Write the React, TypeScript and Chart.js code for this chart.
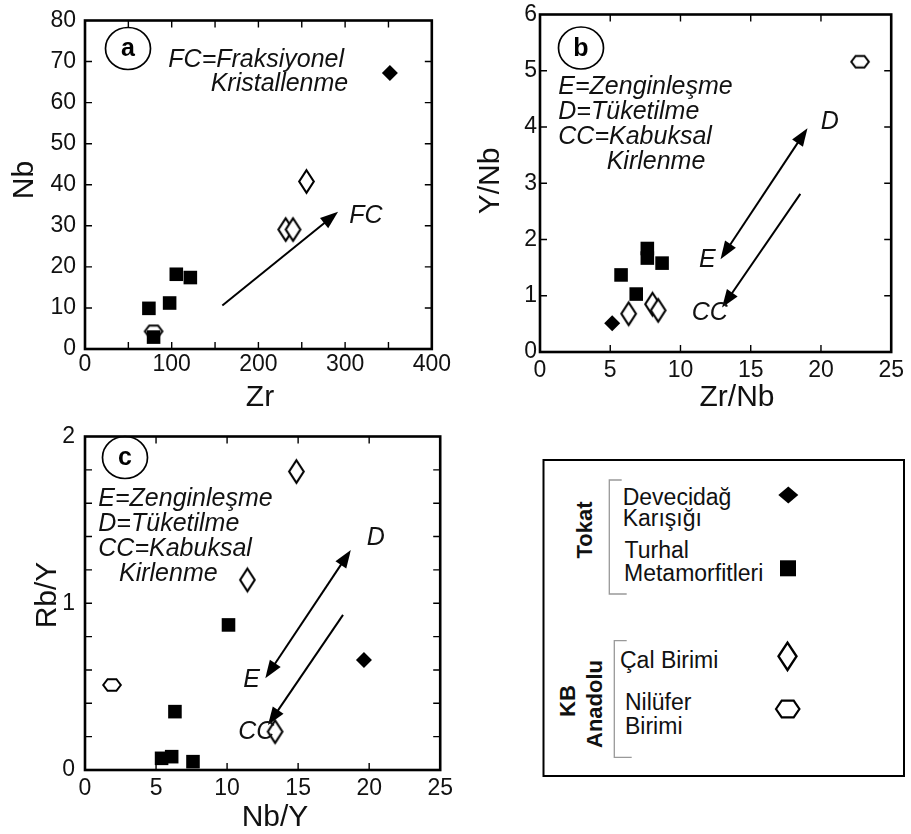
import React, { useEffect, useRef } from 'react';
import { Chart, registerables } from 'chart.js';

Chart.register(...registerables);

const FONT = "'Liberation Sans', Arial, Helvetica, sans-serif";

// ---------- Panel (a): Zr vs Nb ----------
const zrDevecidag = [351.6];
const nbDevecidag = [67.2];
const zrTurhal = [73.7, 97.6, 105.3, 121.5, 79.1];
const nbTurhal = [9.9, 11.2, 18.2, 17.4, 2.9];
const zrCal = [255.4, 231.5, 239.9];
const nbCal = [40.8, 29.1, 29.1];
const zrNilufer = [79.1];
const nbNilufer = [4.3];
const fcArrowA = [[158.4, 10.6], [291.9, 33.4]];
const zrTickLabels = ['0', '100', '200', '300', '400'];
const nbTickLabels = ['0', '10', '20', '30', '40', '50', '60', '70', '80'];

// ---------- Panel (b): Zr/Nb vs Y/Nb ----------
const zrNbDevecidag = [5.14];
const yNbDevecidag = [0.51];
const zrNbTurhal = [5.77, 6.85, 7.64, 7.64, 8.69];
const yNbTurhal = [1.37, 1.03, 1.84, 1.67, 1.58];
const zrNbCal = [6.31, 8.01, 8.41];
const yNbCal = [0.68, 0.85, 0.74];
const zrNbNilufer = [22.78];
const yNbNilufer = [5.16];
const edArrowB = [[12.85, 1.65], [19.04, 3.98]];
const ccArrowB = [[18.53, 2.81], [12.96, 0.79]];
const zrNbTickLabels = ['0', '5', '10', '15', '20', '25'];
const yNbTickLabels = ['0', '1', '2', '3', '4', '5', '6'];

// ---------- Panel (c): Nb/Y vs Rb/Y ----------
const nbYDevecidag = [19.63];
const rbYDevecidag = [0.66];
const nbYTurhal = [10.1, 6.33, 5.39, 6.1, 7.6];
const rbYTurhal = [0.87, 0.35, 0.07, 0.08, 0.05];
const nbYCal = [14.88, 11.43, 13.38];
const rbYCal = [1.79, 1.14, 0.23];
const nbYNilufer = [1.9];
const rbYNilufer = [0.51];
const edArrowC = [[12.69, 0.55], [18.71, 1.32]];
const ccArrowC = [[18.16, 0.93], [12.88, 0.27]];
const nbYTickLabels = ['0', '5', '10', '15', '20', '25'];
const rbYTickLabels = ['0', '1', '2'];

type Arrow = { from: number[]; to: number[]; both: boolean };
type TextItem = { t: string; x: number; y: number };
type Spec = {
  letter: string;
  left: number; top: number; width: number; height: number;
  padTop: number; padRight: number; yWidth: number; xHeight: number;
  xMin: number; xMax: number; xStep: number; xLabels: string[]; xPad: number;
  yMin: number; yMax: number; yStep: number; yLabels: string[]; yPad: number;
  turhal: number[][]; devecidag: number[][]; cal: number[][]; nilufer: number[][];
  arrows: Arrow[];
  texts: TextItem[];
  circle: { x: number; y: number };
  xTitle: TextItem; yTitle: TextItem;
};

const specs: Spec[] = [
  {
    letter: 'a', left: 0, top: 0, width: 455, height: 415,
    padTop: 11, padRight: 23, yWidth: 85, xHeight: 66,
    xMin: 0, xMax: 400, xStep: 50, xLabels: zrTickLabels, xPad: 4,
    yMin: 0, yMax: 80, yStep: 10, yLabels: nbTickLabels, yPad: 9,
    turhal: [zrTurhal, nbTurhal], devecidag: [zrDevecidag, nbDevecidag],
    cal: [zrCal, nbCal], nilufer: [zrNilufer, nbNilufer],
    arrows: [{ from: fcArrowA[0], to: fcArrowA[1], both: false }],
    texts: [
      { t: 'FC=Fraksiyonel', x: 168.3, y: 60 },
      { t: 'Kristallenme', x: 210.7, y: 84 },
      { t: 'FC', x: 349.3, y: 216 },
    ],
    circle: { x: 128, y: 48.5 },
    xTitle: { t: 'Zr', x: 260, y: 398 },
    yTitle: { t: 'Nb', x: 25, y: 180 },
  },
  {
    letter: 'b', left: 455, top: 0, width: 456, height: 415,
    padTop: 12, padRight: 14, yWidth: 85, xHeight: 63,
    xMin: 0, xMax: 25, xStep: 5, xLabels: zrNbTickLabels, xPad: 7,
    yMin: 0, yMax: 6, yStep: 1, yLabels: yNbTickLabels, yPad: 3,
    turhal: [zrNbTurhal, yNbTurhal], devecidag: [zrNbDevecidag, yNbDevecidag],
    cal: [zrNbCal, yNbCal], nilufer: [zrNbNilufer, yNbNilufer],
    arrows: [
      { from: edArrowB[0], to: edArrowB[1], both: true },
      { from: ccArrowB[0], to: ccArrowB[1], both: false },
    ],
    texts: [
      { t: 'E=Zenginleşme', x: 103.3, y: 86.7 },
      { t: 'D=Tüketilme', x: 103.3, y: 111.7 },
      { t: 'CC=Kabuksal', x: 103.3, y: 136.7 },
      { t: 'Kirlenme', x: 151.7, y: 161.7 },
      { t: 'D', x: 365.7, y: 121.7 },
      { t: 'E', x: 244, y: 260 },
      { t: 'CC', x: 236.7, y: 313.3 },
    ],
    circle: { x: 126, y: 48 },
    xTitle: { t: 'Zr/Nb', x: 282, y: 398 },
    yTitle: { t: 'Y/Nb', x: 36, y: 181 },
  },
  {
    letter: 'c', left: 0, top: 415, width: 460, height: 419,
    padTop: 14, padRight: 17, yWidth: 85, xHeight: 64,
    xMin: 0, xMax: 25, xStep: 5, xLabels: nbYTickLabels, xPad: 7,
    yMin: 0, yMax: 2, yStep: 0.2, yLabels: rbYTickLabels, yPad: 10,
    turhal: [nbYTurhal, rbYTurhal], devecidag: [nbYDevecidag, rbYDevecidag],
    cal: [nbYCal, rbYCal], nilufer: [nbYNilufer, rbYNilufer],
    arrows: [
      { from: edArrowC[0], to: edArrowC[1], both: true },
      { from: ccArrowC[0], to: ccArrowC[1], both: false },
    ],
    texts: [
      { t: 'E=Zenginleşme', x: 98.3, y: 84 },
      { t: 'D=Tüketilme', x: 98.3, y: 109.3 },
      { t: 'CC=Kabuksal', x: 98.3, y: 134.3 },
      { t: 'Kirlenme', x: 119, y: 159 },
      { t: 'D', x: 366.7, y: 123.3 },
      { t: 'E', x: 243.3, y: 265 },
      { t: 'CC', x: 238.3, y: 317.3 },
    ],
    circle: { x: 125, y: 42.5 },
    xTitle: { t: 'Nb/Y', x: 275, y: 403 },
    yTitle: { t: 'Rb/Y', x: 48, y: 180 },
  },
];

function pts(xs: number[], ys: number[]) {
  return xs.map((x, i) => ({ x, y: ys[i] }));
}

function tickCb(labels: string[]) {
  return (v: number | string) => {
    const s = String(Math.round(Number(v) * 1000) / 1000);
    return labels.includes(s) ? s : '';
  };
}

function makeDiamond(hw: number, hh: number, lw: number) {
  const c = document.createElement('canvas');
  c.width = Math.ceil(2 * hw + 2 * lw + 2);
  c.height = Math.ceil(2 * hh + 2 * lw + 2);
  const g = c.getContext('2d')!;
  const cx = c.width / 2, cy = c.height / 2;
  g.beginPath();
  g.moveTo(cx, cy - hh);
  g.lineTo(cx + hw, cy);
  g.lineTo(cx, cy + hh);
  g.lineTo(cx - hw, cy);
  g.closePath();
  g.fillStyle = '#fff';
  g.fill();
  g.lineWidth = lw;
  g.strokeStyle = '#000';
  g.stroke();
  return c;
}

function makeHexagon(hw: number, hh: number, lw: number) {
  const c = document.createElement('canvas');
  c.width = Math.ceil(2 * hw + 2 * lw + 2);
  c.height = Math.ceil(2 * hh + 2 * lw + 2);
  const g = c.getContext('2d')!;
  const cx = c.width / 2, cy = c.height / 2;
  const k = hw * 0.5;
  g.beginPath();
  g.moveTo(cx - hw, cy);
  g.lineTo(cx - k, cy - hh);
  g.lineTo(cx + k, cy - hh);
  g.lineTo(cx + hw, cy);
  g.lineTo(cx + k, cy + hh);
  g.lineTo(cx - k, cy + hh);
  g.closePath();
  g.fillStyle = '#fff';
  g.fill();
  g.lineWidth = lw;
  g.strokeStyle = '#000';
  g.stroke();
  return c;
}

const TICK = 7;

function panelPlugin(spec: Spec) {
  return {
    id: 'panel_' + spec.letter,
    afterDraw(chart: any) {
      const ctx: CanvasRenderingContext2D = chart.ctx;
      const { left, right, top, bottom } = chart.chartArea;
      const xs = chart.scales.x;
      const ys = chart.scales.y;
      ctx.save();
      ctx.strokeStyle = '#000';
      ctx.fillStyle = '#000';
      // inward ticks on all four sides
      ctx.lineWidth = 1.4;
      ctx.beginPath();
      for (const t of xs.ticks) {
        const px = xs.getPixelForValue(t.value);
        if (px - left < 2 || right - px < 2) continue;
        ctx.moveTo(px, bottom);
        ctx.lineTo(px, bottom - TICK);
        ctx.moveTo(px, top);
        ctx.lineTo(px, top + TICK);
      }
      for (const t of ys.ticks) {
        const py = ys.getPixelForValue(t.value);
        if (py - top < 2 || bottom - py < 2) continue;
        ctx.moveTo(left, py);
        ctx.lineTo(left + TICK, py);
        ctx.moveTo(right, py);
        ctx.lineTo(right - TICK, py);
      }
      ctx.stroke();
      // frame
      ctx.lineWidth = 2.6;
      ctx.strokeRect(left, top, right - left, bottom - top);

      // arrows
      const HL = 18, HW = 6.5;
      const head = (tx: number, ty: number, ux: number, uy: number) => {
        const bx = tx - ux * HL, by = ty - uy * HL;
        ctx.beginPath();
        ctx.moveTo(tx, ty);
        ctx.lineTo(bx - uy * HW, by + ux * HW);
        ctx.lineTo(bx + uy * HW, by - ux * HW);
        ctx.closePath();
        ctx.fill();
      };
      ctx.lineWidth = 2;
      for (const a of spec.arrows) {
        const x1 = xs.getPixelForValue(a.from[0]);
        const y1 = ys.getPixelForValue(a.from[1]);
        const x2 = xs.getPixelForValue(a.to[0]);
        const y2 = ys.getPixelForValue(a.to[1]);
        const len = Math.hypot(x2 - x1, y2 - y1);
        const ux = (x2 - x1) / len, uy = (y2 - y1) / len;
        const sx = a.both ? x1 + ux * HL * 0.8 : x1;
        const sy = a.both ? y1 + uy * HL * 0.8 : y1;
        ctx.beginPath();
        ctx.moveTo(sx, sy);
        ctx.lineTo(x2 - ux * HL * 0.8, y2 - uy * HL * 0.8);
        ctx.stroke();
        head(x2, y2, ux, uy);
        if (a.both) head(x1, y1, -ux, -uy);
      }

      // italic annotation texts
      ctx.font = `italic 25px ${FONT}`;
      ctx.textAlign = 'left';
      ctx.textBaseline = 'middle';
      ctx.fillStyle = '#111';
      for (const t of spec.texts) ctx.fillText(t.t, t.x, t.y);

      // circled panel letter
      ctx.lineWidth = 1.7;
      ctx.beginPath();
      ctx.ellipse(spec.circle.x, spec.circle.y, 22.5, 21, 0, 0, Math.PI * 2);
      ctx.stroke();
      ctx.font = `bold 25px ${FONT}`;
      ctx.textAlign = 'center';
      ctx.fillStyle = '#000';
      ctx.fillText(spec.letter, spec.circle.x, spec.circle.y + 1);

      // axis titles
      ctx.font = `30px ${FONT}`;
      ctx.fillStyle = '#111';
      ctx.fillText(spec.xTitle.t, spec.xTitle.x, spec.xTitle.y);
      ctx.translate(spec.yTitle.x, spec.yTitle.y);
      ctx.rotate(-Math.PI / 2);
      ctx.fillText(spec.yTitle.t, 0, 0);
      ctx.restore();
    },
  };
}

function Panel({ spec }: { spec: Spec }) {
  const ref = useRef<HTMLCanvasElement | null>(null);
  useEffect(() => {
    if (!ref.current) return;
    const openDiamond = makeDiamond(7.3, 11.3, 2.1);
    const hexagon = makeHexagon(8.8, 5.8, 2);
    const tickFont = { family: FONT, size: 23, lineHeight: 1 };
    const chart = new Chart(ref.current, {
      type: 'scatter',
      data: {
        datasets: [
          {
            label: 'Turhal Metamorfitleri',
            data: pts(spec.turhal[0], spec.turhal[1]),
            pointStyle: 'rect',
            pointRadius: 9.6,
            backgroundColor: '#000',
            borderColor: '#000',
            borderWidth: 0,
            clip: false,
          },
          {
            label: 'Devecidağ Karışığı',
            data: pts(spec.devecidag[0], spec.devecidag[1]),
            pointStyle: 'rectRot',
            pointRadius: 8,
            backgroundColor: '#000',
            borderColor: '#000',
            borderWidth: 0,
            clip: false,
          },
          {
            label: 'Çal Birimi',
            data: pts(spec.cal[0], spec.cal[1]),
            pointStyle: openDiamond as any,
            pointRadius: 8,
            clip: false,
          },
          {
            label: 'Nilüfer Birimi',
            data: pts(spec.nilufer[0], spec.nilufer[1]),
            pointStyle: hexagon as any,
            pointRadius: 8,
            clip: false,
          },
        ] as any,
      },
      options: {
        animation: false,
        responsive: false,
        maintainAspectRatio: false,
        devicePixelRatio: 1,
        events: [],
        layout: { padding: { top: spec.padTop, right: spec.padRight, left: 0, bottom: 0 } },
        plugins: {
          legend: { display: false },
          tooltip: { enabled: false },
          title: { display: false },
        },
        scales: {
          x: {
            type: 'linear',
            position: 'bottom',
            min: spec.xMin,
            max: spec.xMax,
            afterFit: (s: any) => { s.height = spec.xHeight; },
            ticks: {
              stepSize: spec.xStep,
              autoSkip: false,
              maxRotation: 0,
              minRotation: 0,
              padding: spec.xPad,
              color: '#111',
              font: tickFont,
              callback: tickCb(spec.xLabels),
            },
            grid: { display: false, drawTicks: false, tickLength: 0 },
            border: { display: false },
          },
          y: {
            type: 'linear',
            position: 'left',
            min: spec.yMin,
            max: spec.yMax,
            afterFit: (s: any) => { s.width = spec.yWidth; },
            ticks: {
              stepSize: spec.yStep,
              autoSkip: false,
              padding: spec.yPad,
              color: '#111',
              font: tickFont,
              callback: tickCb(spec.yLabels),
            },
            grid: { display: false, drawTicks: false, tickLength: 0 },
            border: { display: false },
          },
        },
      } as any,
      plugins: [panelPlugin(spec)],
    });
    return () => chart.destroy();
  }, [spec]);
  return (
    <canvas
      ref={ref}
      width={spec.width}
      height={spec.height}
      style={{ position: 'absolute', left: spec.left, top: spec.top, width: spec.width, height: spec.height }}
    />
  );
}

function Legend() {
  const txt = { fontFamily: FONT, fontSize: 23, fill: '#111' } as const;
  const bold = { fontFamily: FONT, fontSize: 22, fontWeight: 700, fill: '#111' } as const;
  const hx = 787.7, hy = 709, hw = 11.7, hh = 8.3, hk = 6;
  return (
    <svg width={911} height={834} style={{ position: 'absolute', left: 0, top: 0, pointerEvents: 'none' }}>
      <rect x={543.5} y={460} width={360.5} height={316} fill="#fff" stroke="#000" strokeWidth={2} />
      <text {...bold} textAnchor="middle" transform="translate(591.5,530) rotate(-90)">Tokat</text>
      <text {...bold} textAnchor="middle" transform="translate(575,701) rotate(-90)">KB</text>
      <text {...bold} textAnchor="middle" transform="translate(601.5,704) rotate(-90)">Anadolu</text>
      <path d="M621.7,480 H609.3 V594 H626.7" fill="none" stroke="#999" strokeWidth={1.3} />
      <path d="M626.7,640.7 H614.3 V757.3 H631.7" fill="none" stroke="#999" strokeWidth={1.3} />
      <text {...txt} x={622.7} y={505}>Devecidağ</text>
      <text {...txt} x={622.7} y={526}>Karışığı</text>
      <text {...txt} x={624.5} y={558}>Turhal</text>
      <text {...txt} x={624} y={581}>Metamorfitleri</text>
      <text {...txt} x={620} y={668}>Çal Birimi</text>
      <text {...txt} x={625} y={710}>Nilüfer</text>
      <text {...txt} x={625} y={734}>Birimi</text>
      <polygon points="778.3,495 788.3,486.5 798.3,495 788.3,503.5" fill="#000" />
      <rect x={780} y={560.3} width={16} height={16} fill="#000" />
      <polygon points="787.5,642.6 796.5,656.3 787.5,670 778.5,656.3" fill="#fff" stroke="#000" strokeWidth={2.4} />
      <polygon
        points={`${hx - hw},${hy} ${hx - hk},${hy - hh} ${hx + hk},${hy - hh} ${hx + hw},${hy} ${hx + hk},${hy + hh} ${hx - hk},${hy + hh}`}
        fill="#fff"
        stroke="#000"
        strokeWidth={2.2}
      />
    </svg>
  );
}

export default function App() {
  return (
    <div style={{ position: 'absolute', left: 0, top: 0, width: 911, height: 834, background: '#fff', overflow: 'hidden' }}>
      {specs.map((s) => (
        <Panel key={s.letter} spec={s} />
      ))}
      <Legend />
    </div>
  );
}
